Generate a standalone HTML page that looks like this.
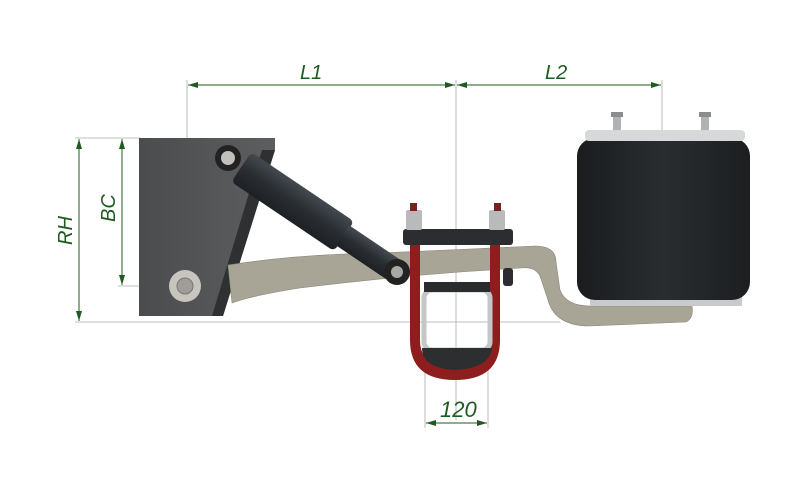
<!DOCTYPE html>
<html><head><meta charset="utf-8"><style>
html,body{margin:0;padding:0;background:#fff;width:800px;height:486px;overflow:hidden}
text{font-family:"Liberation Sans Narrow","Liberation Sans",sans-serif;font-style:italic;fill:#1f5a1f}
</style></head><body>
<svg width="800" height="486" viewBox="0 0 800 486" xmlns="http://www.w3.org/2000/svg">
<defs>
<linearGradient id="bag" x1="0" x2="1"><stop offset="0" stop-color="#1a1c1e"/><stop offset="0.5" stop-color="#2a2d30"/><stop offset="1" stop-color="#1c1e20"/></linearGradient>
<linearGradient id="shock" x1="0" y1="0" x2="0" y2="1"><stop offset="0" stop-color="#444a50"/><stop offset="0.5" stop-color="#2a2e32"/><stop offset="1" stop-color="#1d2024"/></linearGradient>
<linearGradient id="brk" x1="0" x2="1"><stop offset="0" stop-color="#4a4c4e"/><stop offset="1" stop-color="#5c5e60"/></linearGradient>
<marker id="ar" viewBox="0 0 10 6" refX="10" refY="3" markerWidth="14" markerHeight="6" orient="auto" markerUnits="userSpaceOnUse"><path d="M0,0L10,3L0,6z" fill="#1f5a1f"/></marker>
</defs>
<g stroke="#aaa" stroke-width="0.8" fill="none">
<line x1="187" y1="80" x2="187" y2="300"/>
<line x1="456" y1="80" x2="456" y2="420"/>
<line x1="662" y1="80" x2="662" y2="305"/>
<line x1="75" y1="138" x2="140" y2="138"/>
<line x1="118" y1="286" x2="200" y2="286"/>
<line x1="75" y1="322" x2="560" y2="322"/>
<line x1="425" y1="340" x2="425" y2="428"/>
<line x1="488" y1="340" x2="488" y2="428"/>
</g>
<path d="M139,138 L275,138 L275,150 L223,316 L139,316 Z" fill="url(#brk)"/>
<path d="M262,150 L275,150 L223,316 L212,316 Z" fill="#2e3032"/>
<path d="M228,265 Q300,254 380,253 L470,249 L535,246 Q556,246 556,262 L560,290 Q566,306 590,306 L692,306 Q694,318 686,322 L590,326 Q555,326 548,300 L540,276 Q535,266 520,268 L460,272 Q380,278 300,288 Q250,296 232,303 Z" fill="#a9a596" stroke="#8a8678" stroke-width="0.6"/>
<rect x="590" y="296" width="152" height="10" fill="#c8cacc"/>
<rect x="577" y="138" width="173" height="162" rx="18" fill="url(#bag)"/>
<rect x="585" y="130" width="160" height="11" rx="4" fill="#d6d8da"/>
<rect x="613" y="113" width="8" height="17" fill="#b0b2b4"/>
<rect x="701" y="113" width="8" height="17" fill="#b0b2b4"/>
<rect x="611" y="112" width="12" height="5" fill="#8a8c8e"/>
<rect x="699" y="112" width="12" height="5" fill="#8a8c8e"/>
<path d="M410,220 L410,340 Q410,380 455,380 Q500,380 500,340 L500,220 L490,220 L490,340 Q490,368 455,368 Q420,368 420,340 L420,220 Z" fill="#8e1d1d"/>
<rect x="424" y="290" width="66" height="60" rx="8" fill="none" stroke="#c4c6c8" stroke-width="5"/>
<path d="M422,348 L492,348 Q490,368 455,370 Q422,368 422,348Z" fill="#2c2e30"/>
<rect x="424" y="282" width="66" height="10" fill="#2a2c2e"/>
<rect x="403" y="229" width="110" height="16" rx="3" fill="#2b2d30"/>
<rect x="406" y="210" width="16" height="20" rx="2" fill="#b8babb"/>
<rect x="489" y="210" width="16" height="20" rx="2" fill="#b8babb"/>
<rect x="410" y="203" width="7" height="8" fill="#7a2020"/>
<rect x="494" y="203" width="7" height="8" fill="#7a2020"/>
<rect x="503" y="268" width="10" height="18" rx="3" fill="#2b2d30"/>
<g transform="translate(228,158) rotate(34)">
<rect x="16" y="-18" width="124" height="36" rx="5" fill="url(#shock)"/>
<rect x="138" y="-12" width="68" height="24" fill="url(#shock)"/>
</g>
<circle cx="228" cy="158" r="13" fill="#222"/><circle cx="228" cy="158" r="7" fill="#c2c0bc"/>
<circle cx="397" cy="272" r="13" fill="#222"/><circle cx="397" cy="272" r="6" fill="#a8a8a4"/>
<circle cx="185" cy="286" r="16" fill="#c8c4be"/><circle cx="185" cy="286" r="8" fill="#a09c96" stroke="#777" stroke-width="1"/>
<g stroke="#1f5a1f" stroke-width="1" fill="none">
<line x1="440" y1="85" x2="188" y2="85" marker-end="url(#ar)"/>
<line x1="200" y1="85" x2="455" y2="85" marker-end="url(#ar)"/>
<line x1="640" y1="85" x2="457" y2="85" marker-end="url(#ar)"/>
<line x1="470" y1="85" x2="661" y2="85" marker-end="url(#ar)"/>
<line x1="79" y1="300" x2="79" y2="139" marker-end="url(#ar)"/>
<line x1="79" y1="160" x2="79" y2="321" marker-end="url(#ar)"/>
<line x1="122" y1="270" x2="122" y2="139" marker-end="url(#ar)"/>
<line x1="122" y1="155" x2="122" y2="285" marker-end="url(#ar)"/>
<line x1="440" y1="423" x2="426" y2="423" marker-end="url(#ar)"/>
<line x1="470" y1="423" x2="487" y2="423" marker-end="url(#ar)"/>
<line x1="440" y1="423" x2="470" y2="423"/>
</g>
<text x="300" y="79" font-size="20">L1</text>
<text x="545" y="79" font-size="20">L2</text>
<text x="440" y="417" font-size="22">120</text>
<text transform="translate(72,245) rotate(-90)" font-size="20">RH</text>
<text transform="translate(115,222) rotate(-90)" font-size="20">BC</text>
</svg>
</body></html>
